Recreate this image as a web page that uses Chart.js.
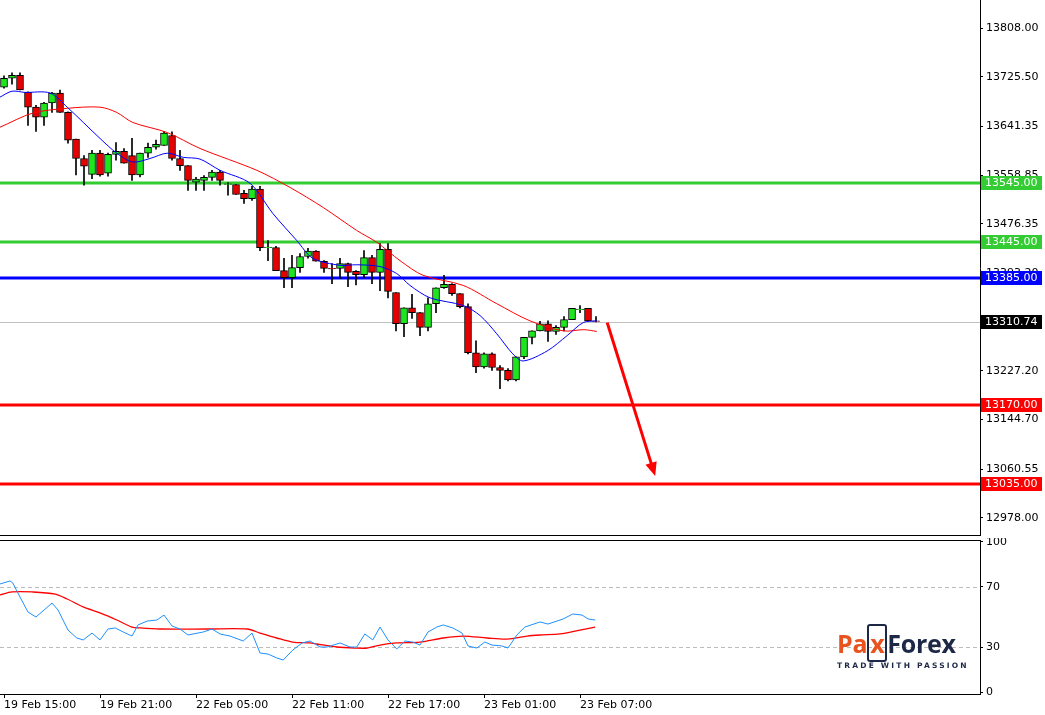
<!DOCTYPE html>
<html><head><meta charset="utf-8">
<script src="https://cdn.jsdelivr.net/npm/chart.js@4"></script>
<style>
body{margin:0;background:#fff;width:1045px;height:715px;overflow:hidden;position:relative;font-family:"DejaVu Sans",sans-serif}
#c1{position:absolute;left:0;top:0}
#c2{position:absolute;left:0;top:538px}
#logo{position:absolute;left:837px;top:628px;width:130px}
#logo .big{font:bold 25px "Open Sans",sans-serif;letter-spacing:-0.3px;line-height:30px}
#logo .o{color:#e8531f}
#logo .n{color:#1d2847}
#logo .bx{border:2px solid #1d2847;border-radius:3px;padding:0 1px;color:#e8531f}
#logo .tag{font:bold 7.5px "DejaVu Sans",sans-serif;letter-spacing:2.2px;color:#1d2847;margin-top:3px;white-space:nowrap}
</style></head>
<body>
<canvas id="c1"></canvas>
<canvas id="c2"></canvas>
<div id="logo"><div class="big"><span class="o">Pa</span><span class="bx">x</span><span class="n">Forex</span></div><div class="tag">TRADE WITH PASSION</div></div>
<script>
// candles [open, high, low, close]
const candles = [
[13708,13727,13706,13723],[13723,13732,13713,13728],[13728,13732,13703,13703],[13699,13700,13643,13674],
[13674,13677,13633,13657],[13657,13682,13643,13681],[13681,13699,13665,13698],[13698,13703,13665,13665],
[13665,13666,13613,13618],[13620,13620,13559,13587],[13587,13592,13542,13574],[13560,13601,13553,13596],
[13596,13601,13557,13559],[13562,13596,13557,13594],[13594,13614,13584,13599],[13599,13604,13579,13579],
[13592,13621,13550,13559],[13559,13596,13556,13596],[13596,13613,13589,13606],[13606,13618,13603,13611],
[13609,13633,13609,13630],[13626,13632,13584,13587],[13587,13601,13567,13575],[13575,13575,13533,13550],
[13547,13555,13533,13552],[13550,13558,13533,13555],[13555,13567,13550,13564],[13564,13567,13542,13550],
[13543,13546,13525,13544],[13543,13543,13526,13526],[13528,13533,13511,13519],[13519,13540,13516,13535],
[13535,13540,13431,13436],[13436,13448,13414,13437],[13436,13438,13397,13397],[13397,13418,13368,13385],
[13385,13423,13368,13402],[13402,13426,13394,13421],[13421,13435,13418,13430],[13430,13431,13413,13413],
[13413,13414,13394,13401],[13401,13409,13375,13400],[13401,13418,13384,13409],[13409,13410,13370,13394],
[13396,13397,13373,13390],[13390,13431,13385,13419],[13419,13423,13375,13394],[13394,13443,13363,13433],
[13433,13443,13351,13362],[13360,13360,13295,13307],[13307,13334,13285,13334],[13334,13357,13316,13326],
[13326,13326,13287,13301],[13301,13351,13295,13341],[13341,13368,13326,13368],[13368,13389,13367,13374],
[13374,13375,13355,13358],[13358,13358,13334,13336],[13336,13341,13256,13258],[13258,13278,13224,13234],
[13234,13258,13232,13256],[13256,13258,13228,13233],[13233,13236,13197,13228],[13228,13231,13210,13212],
[13212,13251,13210,13251],[13251,13284,13248,13284],[13284,13295,13273,13295],[13295,13311,13295,13307],
[13307,13312,13277,13294],[13294,13304,13289,13301],[13301,13319,13295,13314],[13314,13333,13314,13333],
[13331,13338,13326,13331],[13333,13333,13312,13312],[13312,13319,13310,13311]];
const fastMA = [[-0.5,13691],[1,13701],[2.6,13699],[5.75,13698],[7.9,13674],[12,13621],[14.1,13596],[16.1,13581],[18.25,13587],[20.4,13596],[22.4,13589],[24.5,13586],[27,13567],[30.75,13545],[33.6,13494],[36.6,13448],[38.6,13418],[42,13406],[44.1,13407],[47,13404],[49.1,13392],[50.75,13372],[53.25,13351],[57.4,13338],[59.5,13321],[61.6,13290],[63.6,13256],[64.9,13244],[67.9,13261],[70.4,13287],[72.4,13309],[74.1,13312]];
const slowMA = [[-0.5,13640],[3.6,13664],[7.9,13672],[12,13674],[14.1,13665],[16.1,13648],[20.4,13631],[24.5,13604],[31.6,13567],[35.75,13538],[39.9,13504],[44.1,13465],[46.6,13445],[49.5,13414],[52.4,13389],[57.4,13372],[61.6,13341],[65.75,13312],[69.9,13295],[72.5,13297],[74.1,13294]];
const rsi = [[-0.5,72],[0.75,74],[1.1,72.7],[2,63.3],[3,53.3],[4,50],[6,59.3],[6.75,54.7],[8,41.3],[9.1,36],[9.9,34.7],[11,39.3],[12,34.7],[13,42],[13.9,42.7],[14.9,40],[16,37.3],[16.75,44.7],[17.9,47.3],[19.1,48],[20,51.3],[21,44],[22,42],[23,38],[24.9,40],[26,42],[27,38.7],[28.25,37.3],[29.9,34],[31,39.3],[32,26],[33,25.3],[34.1,22.7],[34.9,21.3],[36.1,28],[37.25,32.7],[38.25,34],[39.5,30],[40.4,30],[42,32.7],[43.25,30],[44.1,30],[45.1,38.7],[46.1,34.7],[47,43.3],[48,34.7],[49.1,28.7],[50.1,34],[51.1,33.3],[52,31.3],[53,40],[54.1,43.3],[54.9,44.7],[56.1,42.7],[57.25,39.3],[58,30.7],[59.1,29.3],[60.1,33.3],[61,31.3],[62.25,30.7],[63,29.3],[64.1,38],[65.1,43.3],[67,46.7],[68,45.3],[69.9,48.7],[71.1,52],[72.25,51.3],[73,48.7],[73.9,48]];
const rsiSignal = [[-0.5,64.7],[1,66.7],[3.5,66.7],[6.4,65.3],[7.9,62],[9.9,56.7],[12,52.7],[14.1,48],[16,43.3],[17,42.7],[19.5,42],[25.4,42],[30.4,42],[32,39.3],[34.1,36],[36.1,33.3],[38.25,32.7],[39.1,32],[41.6,30],[43.9,29.3],[45.4,29.3],[47,31.3],[49.1,32.7],[52,33.3],[54.9,36],[57.4,37.3],[60.4,36],[62.9,35.3],[65.4,37.3],[67,38],[69.5,38.7],[72,41.3],[73.9,43.3]];
const priceTicks = [13808.00,13725.50,13641.35,13558.85,13476.35,13393.20,13227.20,13144.70,13060.55,12978.00];
const rsiTicks = [100,70,30,0];
const timeTickIdx = [0,12,24,36,48,60,72];
const timeLabels = ["19 Feb 15:00","19 Feb 21:00","22 Feb 05:00","22 Feb 11:00","22 Feb 17:00","23 Feb 01:00","23 Feb 07:00"];
const levels = [
 {v:13545,c:'#33cc33',w:3},{v:13445,c:'#33cc33',w:3},{v:13385,c:'#0000ff',w:3},
 {v:13170,c:'#ff0000',w:3},{v:13035,c:'#ff0000',w:3}];
const currentPrice = 13310.74;
const arrowFrom = [75.4,13309], arrowTo = [81.4,13049];

const XMIN=-0.5, XMAX=122;
const FONT={family:'"DejaVu Sans",sans-serif',size:11};
const pt=a=>a.map(p=>({x:p[0],y:p[1]}));
const up=c=>c[3]>=c[0];
const noPad=s=>{s.paddingTop=0;s.paddingBottom=0;};

const c1=document.getElementById('c1'); c1.width=1045; c1.height=536; c1.style.width='1045px'; c1.style.height='536px';
const c2=document.getElementById('c2'); c2.width=1045; c2.height=177; c2.style.width='1045px'; c2.style.height='177px';

const overlay={id:'ov',
 beforeDatasetsDraw(ch){const {ctx,chartArea:a,scales:{y}}=ch;ctx.save();
   const cy=Math.round(y.getPixelForValue(currentPrice))+0.5;
   ctx.strokeStyle='#c0c0c0';ctx.lineWidth=1;ctx.beginPath();ctx.moveTo(a.left,cy);ctx.lineTo(a.right,cy);ctx.stroke();
   levels.forEach(l=>{const py=Math.round(y.getPixelForValue(l.v));ctx.strokeStyle=l.c;ctx.lineWidth=l.w;ctx.beginPath();ctx.moveTo(a.left,py);ctx.lineTo(a.right,py);ctx.stroke();});
   ctx.restore();},
 afterDraw(ch){const {ctx,chartArea:a,scales:{x,y}}=ch;ctx.save();
   ctx.strokeStyle='#000';ctx.lineWidth=1;ctx.beginPath();ctx.moveTo(0,a.bottom-0.5);ctx.lineTo(a.right,a.bottom-0.5);ctx.stroke();
   ctx.font='11px "DejaVu Sans",sans-serif';ctx.textBaseline='middle';
   const box=(v,c)=>{const py=Math.round(y.getPixelForValue(v));ctx.fillStyle=c;ctx.fillRect(a.right+1,py-7,61,14);ctx.fillStyle='#fff';ctx.fillText(v.toFixed(2),a.right+5,py+0.5);};
   levels.forEach(l=>box(l.v,l.c));
   box(currentPrice,'#000');
   const x0=x.getPixelForValue(arrowFrom[0]),y0=y.getPixelForValue(arrowFrom[1]),x1=x.getPixelForValue(arrowTo[0]),y1=y.getPixelForValue(arrowTo[1]);
   const ang=Math.atan2(y1-y0,x1-x0),hl=15;
   ctx.strokeStyle='#ff0000';ctx.fillStyle='#ff0000';ctx.lineWidth=3;ctx.beginPath();ctx.moveTo(x0,y0);ctx.lineTo(x1-Math.cos(ang)*hl*0.8,y1-Math.sin(ang)*hl*0.8);ctx.stroke();
   ctx.beginPath();ctx.moveTo(x1,y1);ctx.lineTo(x1-hl*Math.cos(ang-0.4),y1-hl*Math.sin(ang-0.4));ctx.lineTo(x1-hl*Math.cos(ang+0.4),y1-hl*Math.sin(ang+0.4));ctx.closePath();ctx.fill();
   ctx.restore();}};

new Chart(c1,{type:'bar',
 data:{datasets:[
  {type:'line',data:pt(fastMA),borderColor:'#0000ff',borderWidth:1,pointRadius:0,tension:0.3,order:0},
  {type:'line',data:pt(slowMA),borderColor:'#ff0000',borderWidth:1,pointRadius:0,tension:0.3,order:0},
  {data:candles.map((c,i)=>({x:i,y:[c[2],c[1]]})),backgroundColor:'#000',barThickness:1,grouped:false,order:2},
  {data:candles.map((c,i)=>({x:i,y:[Math.min(c[0],c[3]),Math.max(c[0],c[3])+ (Math.abs(c[0]-c[3])<1?0.8:0)]})),
   backgroundColor:candles.map(c=>up(c)?'#1ee61e':'#e60000'),borderColor:'#000',borderWidth:1,borderSkipped:false,barThickness:7,grouped:false,order:1}
 ]},
 options:{responsive:false,animation:false,devicePixelRatio:1,
  layout:{padding:0},
  plugins:{legend:{display:false},tooltip:{enabled:false}},
  scales:{
   x:{type:'linear',min:XMIN,max:XMAX,display:false,offset:false},
   y:{position:'right',min:12947.5,max:13855.5,
      afterFit(s){s.width=65;noPad(s);},
      afterBuildTicks(s){s.ticks=priceTicks.map(v=>({value:v}));},
      grid:{drawOnChartArea:false,color:'#000',tickLength:3},
      border:{display:true,color:'#000'},
      ticks:{font:FONT,color:'#000',padding:3,callback:v=>v.toFixed(2)}}}},
 plugins:[overlay]});

const ov2={id:'ov2',
 beforeDatasetsDraw(ch){const {ctx,chartArea:a,scales:{y}}=ch;ctx.save();ctx.setLineDash([4,3]);ctx.strokeStyle='#bbbbbb';ctx.lineWidth=1;
  [70,30].forEach(v=>{const py=Math.round(y.getPixelForValue(v))+0.5;ctx.beginPath();ctx.moveTo(a.left,py);ctx.lineTo(a.right,py);ctx.stroke();});ctx.restore();},
 afterDraw(ch){const {ctx,chartArea:a}=ch;ctx.save();ctx.strokeStyle='#000';ctx.lineWidth=1;
  ctx.beginPath();ctx.moveTo(0,a.top+0.5);ctx.lineTo(a.right,a.top+0.5);ctx.stroke();ctx.restore();}};

new Chart(c2,{type:'line',
 data:{datasets:[
  {data:pt(rsi),borderColor:'#1e90ff',borderWidth:1,pointRadius:0,tension:0},
  {data:pt(rsiSignal),borderColor:'#ff0000',borderWidth:1.3,pointRadius:0,tension:0.3}]},
 options:{responsive:false,animation:false,devicePixelRatio:1,
  layout:{padding:{top:2,left:0,right:0,bottom:0}},
  plugins:{legend:{display:false},tooltip:{enabled:false}},
  scales:{
   x:{type:'linear',min:XMIN,max:XMAX,
      afterFit(s){s.height=21;s.paddingLeft=0;s.paddingRight=0;},
      afterBuildTicks(s){s.ticks=timeTickIdx.map(v=>({value:v}));},
      grid:{drawOnChartArea:false,color:'#000',tickLength:4},
      border:{display:true,color:'#000'},
      ticks:{font:FONT,color:'#000',maxRotation:0,autoSkip:false,align:'start',padding:1,
        callback:(v)=>{const k=timeTickIdx.indexOf(v);return k>=0?timeLabels[k]:'';}}},
   y:{position:'right',min:-1.33,max:101.33,
      afterFit(s){s.width=65;noPad(s);},
      afterBuildTicks(s){s.ticks=rsiTicks.map(v=>({value:v}));},
      grid:{drawOnChartArea:false,color:'#000',tickLength:3},
      border:{display:true,color:'#000'},
      ticks:{font:FONT,color:'#000',padding:3}}}},
 plugins:[ov2]});
</script>
</body></html>
